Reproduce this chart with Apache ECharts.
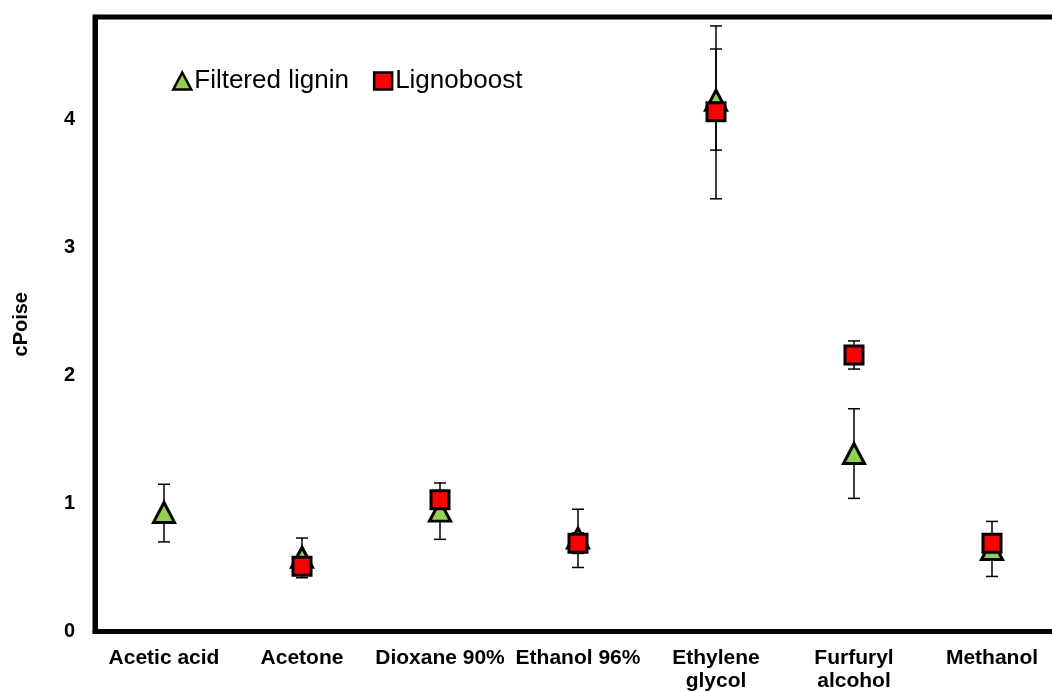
<!DOCTYPE html>
<html>
<head>
<meta charset="utf-8">
<script src="https://cdn.jsdelivr.net/npm/echarts@6/dist/echarts.min.js"></script>
<style>html,body{margin:0;padding:0;background:#fff}#c{width:1052px;height:692px}</style>
</head>
<body>
<div id="c"></div>
<script>
var categories = ['Acetic acid', 'Acetone', 'Dioxane 90%', 'Ethanol 96%', 'Ethylene\nglycol', 'Furfuryl\nalcohol', 'Methanol'];
var yTicks = [0, 1, 2, 3, 4];
var filteredValues = [0.93, 0.58, 0.94, 0.73, 4.15, 1.39, 0.64];
var filteredLow    = [0.70, 0.42, 0.72, 0.50, 3.76, 1.04, 0.43];
var filteredHigh   = [1.15, 0.73, 1.16, 0.955, 4.55, 1.74, 0.86];
var ligValues = [null, 0.51, 1.03, 0.69, 4.06, 2.16, 0.69];
var ligLow    = [null, 0.44, 0.96, 0.61, 3.38, 2.05, 0.62];
var ligHigh   = [null, 0.58, 1.10, 0.77, 4.73, 2.27, 0.76];

var FONT = "'Liberation Sans', Arial, sans-serif";

function errData(low, high) {
  var out = [];
  for (var i = 0; i < low.length; i++) {
    if (low[i] != null) out.push([i, low[i], high[i]]);
  }
  return out;
}
function errRender(params, api) {
  var x = api.value(0);
  var lo = api.coord([x, api.value(1)]);
  var hi = api.coord([x, api.value(2)]);
  var hw = 6;
  var st = { stroke: '#000', lineWidth: 1.5 };
  return {
    type: 'group',
    children: [
      { type: 'line', shape: { x1: lo[0], y1: lo[1], x2: hi[0], y2: hi[1] }, style: st },
      { type: 'line', shape: { x1: lo[0] - hw, y1: lo[1], x2: lo[0] + hw, y2: lo[1] }, style: st },
      { type: 'line', shape: { x1: hi[0] - hw, y1: hi[1], x2: hi[0] + hw, y2: hi[1] }, style: st }
    ]
  };
}

var chart = echarts.init(document.getElementById('c'));
chart.setOption({
  animation: false,
  backgroundColor: '#fff',
  textStyle: { fontFamily: FONT },
  grid: { left: 95, width: 966, top: 17, bottom: 60.5, show: true, borderColor: '#000', borderWidth: 5, outerBoundsMode: 'none', containLabel: false },
  legend: {
    left: 167, top: 63,
    itemWidth: 18, itemHeight: 17, itemGap: 24,
    textStyle: { fontSize: 26, color: '#000', fontFamily: FONT, padding: [0, 0, 0, -2] },
    data: [
      { name: 'Filtered lignin', icon: 'triangle', itemStyle: { color: '#92D050', borderColor: '#000', borderWidth: 2.5 } },
      { name: 'Lignoboost', icon: 'rect', itemStyle: { color: '#FF0000', borderColor: '#000', borderWidth: 2.5 } }
    ]
  },
  xAxis: {
    type: 'category',
    data: categories,
    boundaryGap: true,
    axisLine: { show: true, lineStyle: { color: '#000', width: 5 } },
    axisTick: { show: false },
    splitLine: { show: false },
    axisLabel: { interval: 0, color: '#000', fontWeight: 'bold', fontSize: 21, fontFamily: FONT, margin: 15, lineHeight: 23 }
  },
  yAxis: {
    type: 'value',
    min: 0, max: 4.8, interval: 1,
    name: 'cPoise',
    nameLocation: 'middle',
    nameGap: 64,
    nameRotate: 90,
    nameTextStyle: { color: '#000', fontWeight: 'bold', fontSize: 20, fontFamily: FONT },
    axisLine: { show: true, lineStyle: { color: '#000', width: 5 } },
    axisTick: { show: false },
    splitLine: { show: false },
    axisLabel: {
      color: '#000', fontWeight: 'bold', fontSize: 20, fontFamily: FONT, margin: 20,
      formatter: function (v) { return yTicks.indexOf(v) >= 0 ? String(v) : ''; }
    }
  },
  series: [
    { type: 'custom', name: 'errF', renderItem: errRender, data: errData(filteredLow, filteredHigh), z: 1, silent: true },
    { type: 'custom', name: 'errL', renderItem: errRender, data: errData(ligLow, ligHigh), z: 1, silent: true },
    {
      type: 'scatter', name: 'Filtered lignin', data: filteredValues,
      symbol: 'triangle', symbolSize: [21, 20], z: 3,
      itemStyle: { color: '#92D050', borderColor: '#000', borderWidth: 3, opacity: 1 }
    },
    {
      type: 'scatter', name: 'Lignoboost', data: ligValues,
      symbol: 'rect', symbolSize: 18, z: 4,
      itemStyle: { color: '#FF0000', borderColor: '#000', borderWidth: 3, opacity: 1 }
    }
  ]
});
</script>
</body>
</html>
